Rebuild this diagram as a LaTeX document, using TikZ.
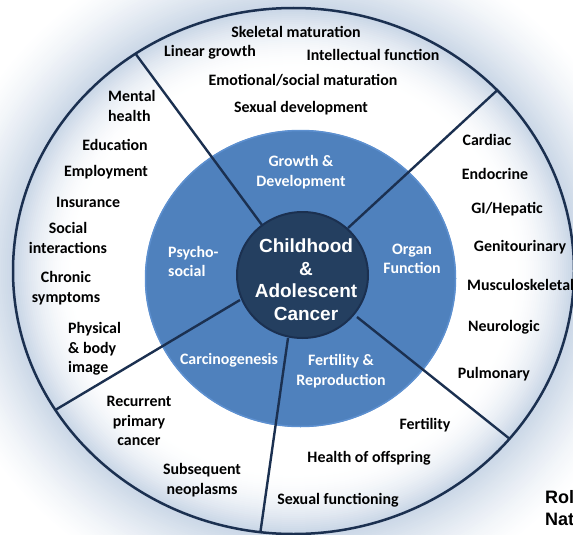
\documentclass[tikz,border=0pt]{standalone}
\usepackage{fontspec}
\setmainfont{Carlito}
\newfontfamily\arialfont{Liberation Sans}
\usetikzlibrary{shapes.geometric}
\definecolor{ringblue}{HTML}{4F81BD}
\definecolor{rimblue}{HTML}{5D90D0}
\definecolor{coredark}{HTML}{243F60}
\definecolor{navy}{HTML}{1B3050}
\definecolor{haze}{HTML}{C9D6E6}
\begin{document}
\begin{tikzpicture}[x=1pt,y=-1pt,
  lbl/.style={font=\fontsize{15.9}{19.5}\selectfont\bfseries, text=black, align=center, inner sep=0pt},
  lblw/.style={lbl, text=white},
  divider/.style={navy, line width=2.4pt},
  core/.style={ellipse, fill=coredark, draw=navy, line width=2pt, minimum width=131pt, minimum height=126pt, inner sep=0pt},
  coretext/.style={font=\arialfont\bfseries\fontsize{19}{22.5}\selectfont, text=white, align=center, inner sep=0pt},
  credit/.style={font=\arialfont\bfseries\fontsize{18}{20}\selectfont, text=black, inner sep=0pt, anchor=base west}]
\useasboundingbox (0,0) rectangle (573,535);
\fill[white] (0,0) rectangle (573,535);

% soft halo outside the outer ring
\foreach \d [evaluate=\d as \p using {100*(1-\d/80)^1.4}] in {80,78,...,0}
  \fill[haze!\p!white] (293.5,271) ellipse [x radius=280.5+\d, y radius=263+\d];
% soft halo fading towards the middle
\foreach \d [evaluate=\d as \p using {100*(1-\d/60)^1.8}] in {2,4,...,60}
  \fill[haze!\p!white] (293.5,271) ellipse [x radius=280.5-\d, y radius=263-\d];

% middle ring
\fill[ringblue] (300.5,278.5) ellipse [x radius=155.5, y radius=148.5];
\draw[rimblue, line width=1.5pt] (300.5,278.5) ellipse [x radius=155, y radius=148];

% sector dividers, cut at the outer ring
\begin{scope}
  \clip (293.5,271) ellipse [x radius=280.5, y radius=263];
  \coordinate (a1) at (262,225); \coordinate (b1) at (101,7);
  \coordinate (a2) at (348,228); \coordinate (b2) at (530,60);
  \coordinate (a3) at (240,300); \coordinate (b3) at (20,431);
  \coordinate (a4) at (288,338); \coordinate (b4) at (255,570);
  \coordinate (a5) at (357,317); \coordinate (b5) at (550,471);
  \foreach \i in {1,...,5} \draw[divider] (a\i) -- (b\i);
\end{scope}

% outer ring
\draw[navy, line width=2.5pt] (293.5,271) ellipse [x radius=280.5, y radius=263];

% centre
\node[core] (core) at (302.5,275) {};
\node[coretext] (coretitle) at (306,279.5) {Childhood\\\&\\Adolescent\\Cancer};

% middle ring labels
\node[lblw] (growth) at (301,172) {Growth \&\\Development};
\node[lblw, align=left, anchor=west] (psycho) at (168,261.5) {Psycho-\\social};
\node[lblw] (organ) at (412,259) {Organ\\Function};
\node[lblw] (carcino) at (229,360) {Carcinogenesis};
\node[lblw] (fertrep) at (341,371) {Fertility \&\\Reproduction};

% growth & development
\node[lbl] (skel) at (296,32) {Skeletal maturation};
\node[lbl] (linear) at (210,52) {Linear growth};
\node[lbl] (intel) at (373,55) {Intellectual function};
\node[lbl] (emot) at (303,80) {Emotional/social maturation};
\node[lbl] (sexdev) at (301,108) {Sexual development};

% psychosocial
\node[lbl, align=left, anchor=west] (mental) at (108,106) {Mental\\health};
\node[lbl] (edu) at (115,145) {Education};
\node[lbl] (empl) at (106,172) {Employment};
\node[lbl] (insur) at (88,202) {Insurance};
\node[lbl] (social) at (68,238) {Social\\interactions};
\node[lbl] (chronic) at (66,288) {Chronic\\symptoms};
\node[lbl, align=left, anchor=west] (phys) at (68,349) {Physical\\\& body\\image};

% carcinogenesis
\node[lbl] (recur) at (139,421) {Recurrent\\primary\\cancer};
\node[lbl] (subseq) at (202,480) {Subsequent\\neoplasms};

% fertility & reproduction
\node[lbl] (fert) at (425,425) {Fertility};
\node[lbl] (offspring) at (369,458) {Health of offspring};
\node[lbl] (sexfun) at (338,500) {Sexual functioning};

% organ function
\node[lbl] (card) at (487,140) {Cardiac};
\node[lbl] (endo) at (495,174) {Endocrine};
\node[lbl] (gi) at (507,209) {GI/Hepatic};
\node[lbl] (genito) at (520,247) {Genitourinary};
\node[lbl, anchor=west] (musc) at (467,285) {Musculoskeletal};
\node[lbl] (neuro) at (504,327) {Neurologic};
\node[lbl] (pulm) at (494,374) {Pulmonary};

% source credit at the edge
\node[credit] (cred1) at (545,503) {Rol};
\node[credit] (cred2) at (545,525) {Nat};
\end{tikzpicture}
\end{document}
